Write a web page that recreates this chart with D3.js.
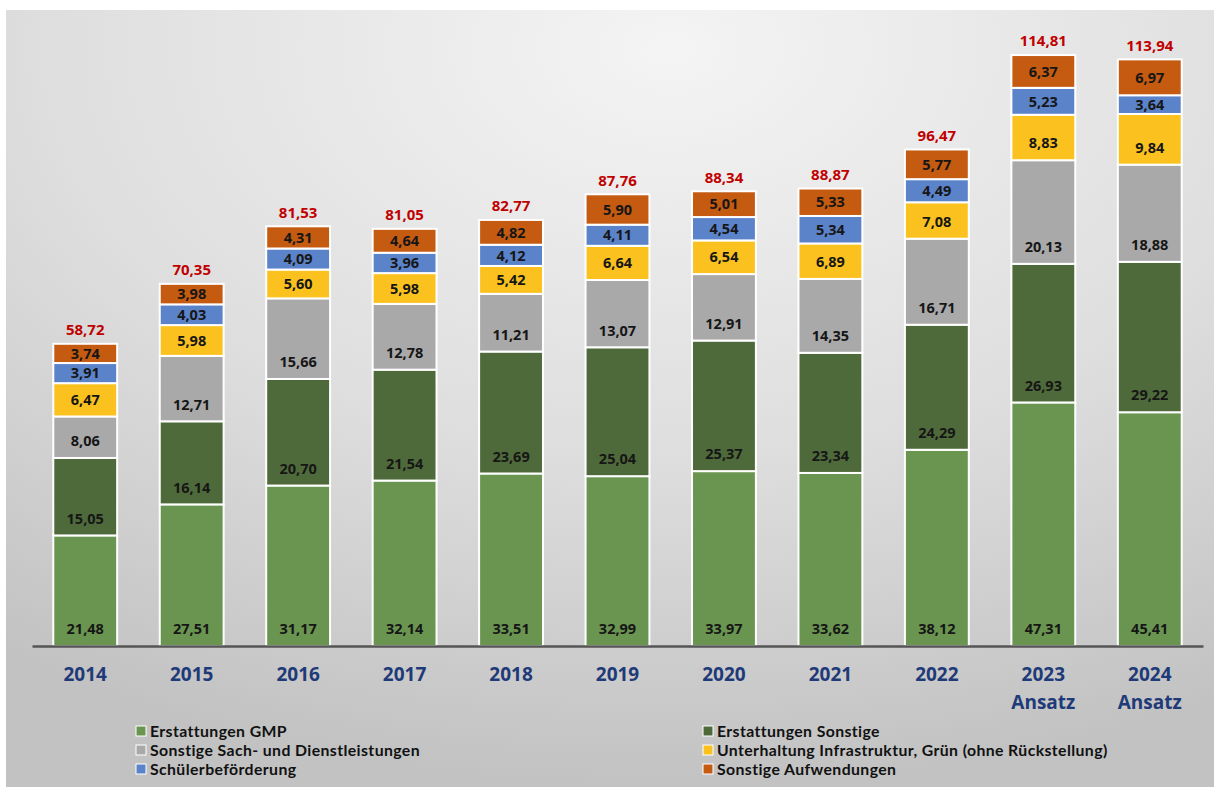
<!DOCTYPE html>
<html><head><meta charset="utf-8">
<script src="https://cdn.jsdelivr.net/npm/d3@7"></script>
<style>
html,body{margin:0;padding:0;background:#fff;}
svg{display:block;font-family:"Open Sans",sans-serif;}
</style></head>
<body>
<script>
const years = ["2014","2015","2016","2017","2018","2019","2020","2021","2022","2023","2024"];
const yearSub = ["","","","","","","","","","Ansatz","Ansatz"];
const seriesNames = ["Erstattungen GMP","Erstattungen Sonstige","Sonstige Sach- und Dienstleistungen","Unterhaltung Infrastruktur, Grün (ohne Rückstellung)","Schülerbeförderung","Sonstige Aufwendungen"];
const seriesColors = ["#6a9550","#4f6a3a","#a9a9a9","#fbc21f","#5b83c9","#c55a11"];
const gmp       = [21.48,27.51,31.17,32.14,33.51,32.99,33.97,33.62,38.12,47.31,45.41];
const sonstErst = [15.05,16.14,20.70,21.54,23.69,25.04,25.37,23.34,24.29,26.93,29.22];
const sachDienst= [8.06,12.71,15.66,12.78,11.21,13.07,12.91,14.35,16.71,20.13,18.88];
const unterhalt = [6.47,5.98,5.60,5.98,5.42,6.64,6.54,6.89,7.08,8.83,9.84];
const schueler  = [3.91,4.03,4.09,3.96,4.12,4.11,4.54,5.34,4.49,5.23,3.64];
const sonstAufw = [3.74,3.98,4.31,4.64,4.82,5.90,5.01,5.33,5.77,6.37,6.97];
const totals    = [58.72,70.35,81.53,81.05,82.77,87.76,88.34,88.87,96.47,114.81,113.94];
const seriesValues = [gmp,sonstErst,sachDienst,unterhalt,schueler,sonstAufw];

const W=1214,H=787;
const svg=d3.select("body").append("svg").attr("width",W).attr("height",H);
const defs=svg.append("defs");
const g1=defs.append("radialGradient").attr("id","bg").attr("cx","0.55").attr("cy","0.05").attr("r","0.95");
g1.append("stop").attr("offset","0").attr("stop-color","#f4f4f4");
g1.append("stop").attr("offset","0.55").attr("stop-color","#dedede");
g1.append("stop").attr("offset","1").attr("stop-color","#c2c2c2");
svg.append("rect").attr("x",6).attr("y",10).attr("width",W-6).attr("height",H-10).attr("fill","url(#bg)");

const fmt=v=>d3.format(".2f")(v).replace(".",",");
const x=d3.scaleBand().domain(years).range([32,1203]).paddingInner(0.4).paddingOuter(0.2);
const y=d3.scaleLinear().domain([0,114.81]).range([646,55]);

const stackData=years.map((yr,i)=>{const o={year:yr};seriesValues.forEach((s,k)=>o["s"+k]=s[i]);return o;});
const stack=d3.stack().keys(seriesValues.map((s,k)=>"s"+k))(stackData);

stack.forEach((layer,k)=>{
  const gg=svg.append("g");
  gg.selectAll("rect").data(layer).enter().append("rect")
    .attr("x",d=>x(d.data.year)).attr("width",x.bandwidth())
    .attr("y",d=>y(d[1])).attr("height",d=>y(d[0])-y(d[1]))
    .attr("fill",seriesColors[k]).attr("stroke","#fff").attr("stroke-width",2);
  gg.selectAll("text").data(layer).enter().append("text")
    .attr("x",d=>x(d.data.year)+x.bandwidth()/2)
    .attr("y",d=>Math.max(y(d[0])-17,(y(d[0])+y(d[1]))/2))
    .attr("dy","0.36em").attr("text-anchor","middle")
    .attr("font-size",14.5).attr("font-weight",700).attr("fill","#161616")
    .text(d=>fmt(d[1]-d[0]));
});

svg.append("g").selectAll("text").data(years).enter().append("text")
  .attr("x",d=>x(d)+x.bandwidth()/2).attr("y",(d,i)=>y(totals[i])-14)
  .attr("dy","0.36em").attr("text-anchor","middle")
  .attr("font-size",15).attr("font-weight",700).attr("fill","#c00000")
  .text((d,i)=>fmt(totals[i]));

const xAxis=svg.append("g").attr("transform","translate(0,646)")
  .call(d3.axisBottom(x).tickSize(0).tickPadding(0).tickFormat(""));
xAxis.select(".domain").attr("stroke","#555").attr("stroke-width",2.5);
xAxis.selectAll(".tick").each(function(d,i){
  const t=d3.select(this).append("text").attr("text-anchor","middle")
    .attr("font-size",19).attr("font-weight",700).attr("fill","#1f3a78")
    .attr("font-family","'Open Sans',sans-serif");
  t.append("tspan").attr("x",0).attr("y",35).text(d);
  if(yearSub[i]) t.append("tspan").attr("x",0).attr("y",63).text(yearSub[i]);
});

const legPos=[[136,731],[703,731],[136,750],[703,750],[136,769],[703,769]];
const leg=svg.append("g").selectAll("g").data(seriesNames).enter().append("g")
  .attr("transform",(d,i)=>`translate(${legPos[i][0]},${legPos[i][1]})`);
leg.append("rect").attr("x",0).attr("y",-5).attr("width",10).attr("height",10)
  .attr("fill",(d,i)=>seriesColors[i]).attr("stroke","#fff").attr("stroke-width",1);
leg.append("text").attr("x",14).attr("dy","0.36em").attr("font-family","Lato,sans-serif")
  .attr("font-size",15.8).attr("font-weight",700).attr("letter-spacing",0.4)
  .attr("fill","#111").text(d=>d);
</script>
</body></html>
